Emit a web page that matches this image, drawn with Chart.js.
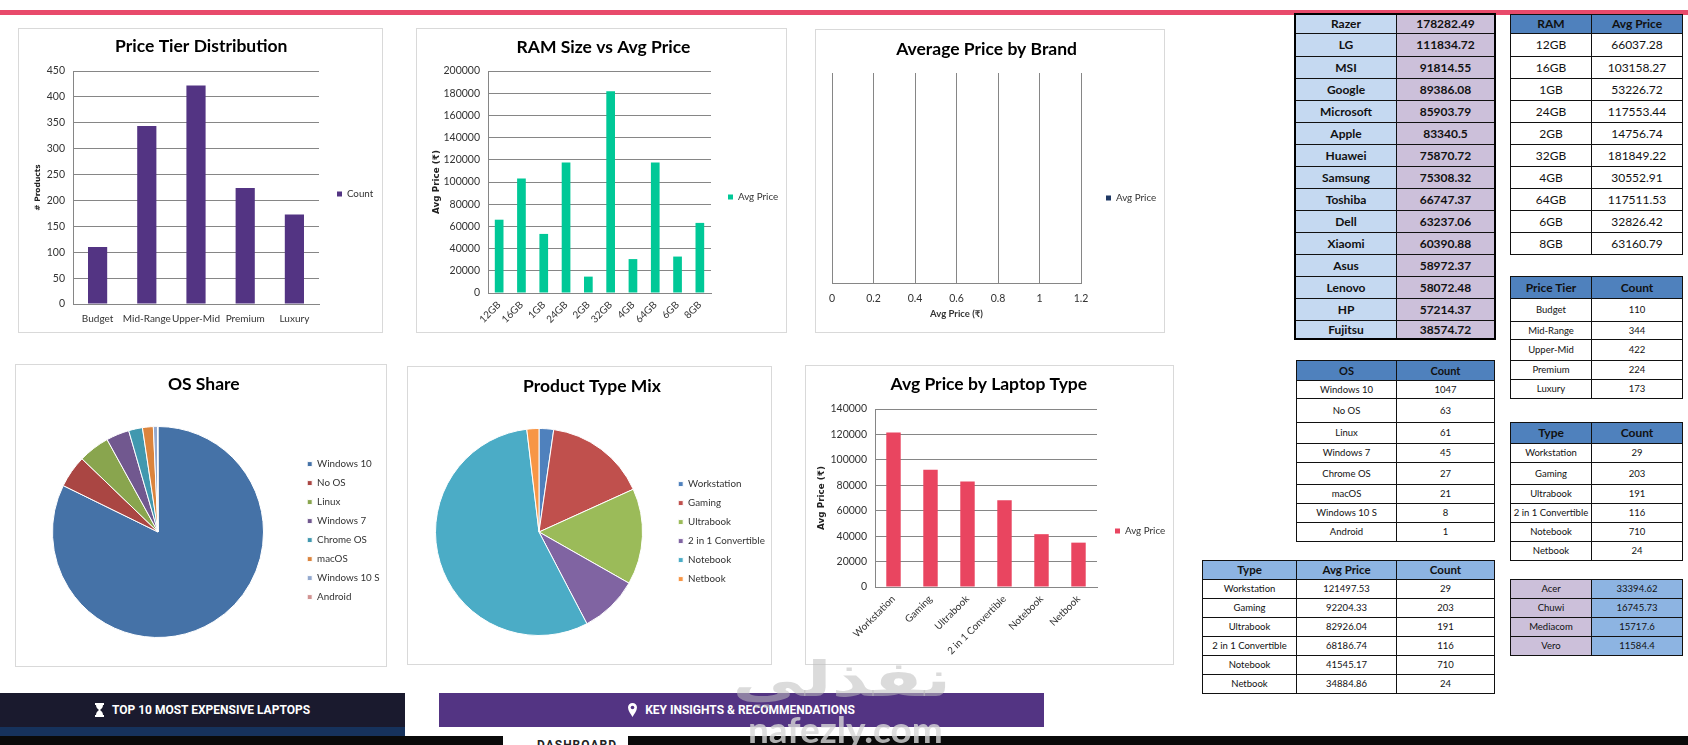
<!DOCTYPE html>
<html lang="en">
<head>
<meta charset="UTF-8">
<title>Laptop Dashboard</title>
<script src="https://cdn.jsdelivr.net/npm/chart.js"></script>
<style>
    html, body { margin: 0; padding: 0; background: #fff; width: 1688px; height: 745px; overflow: hidden; font-family: Lato, 'DejaVu Sans', sans-serif; }
    .abs { position: absolute; }
    .box { position: absolute; background: #fff; border: 1px solid #d9d9d9; box-sizing: border-box; }
    .box canvas { position: absolute; left: -1px; top: -1px; }
    table { position: absolute; border-collapse: collapse; table-layout: fixed; color: #111; }
    td { border: 1px solid #111; text-align: center; padding: 0; overflow: hidden; white-space: nowrap; line-height: 1; }
    .banner { position: absolute; color: #fff; font: bold 12px Roboto, sans-serif; display: flex; align-items: center; justify-content: center; gap: 8px; }
    .mark { position: absolute; pointer-events: none; white-space: nowrap; line-height: 1; }
</style>
</head>
<body>
<div class="abs" style="left:0;top:10px;width:1688px;height:5px;background:#e84a6b"></div>

<div class="abs" style="left:0;top:727px;width:405px;height:9px;background:#16325c"></div>
<div class="banner" style="left:0;top:693px;width:405px;height:34px;background:#1a1a2e">
    <svg width="9" height="14" viewBox="0 0 9 14"><path d="M0 0h9v2H8c0 3-2 4-3 5 1 1 3 2 3 5h1v2H0v-2h1c0-3 2-4 3-5C3 6 1 5 1 2H0z" fill="#fff"/></svg>
    <span>TOP 10 MOST EXPENSIVE LAPTOPS</span>
</div>
<div class="banner" style="left:439px;top:693px;width:605px;height:34px;background:#533483">
    <svg width="9" height="14" viewBox="0 0 9 14"><path d="M4.5 0a4.5 4.5 0 0 1 4.5 4.5C9 8 6 11 4.5 14 3 11 0 8 0 4.5A4.5 4.5 0 0 1 4.5 0z" fill="#fff"/><circle cx="4.5" cy="4.5" r="1.8" fill="#533483"/></svg>
    <span>KEY INSIGHTS &amp; RECOMMENDATIONS</span>
</div>
<div class="abs" style="left:0;top:736px;width:1688px;height:9px;background:#0a0a0a"></div>
<div class="abs" style="left:503px;top:736px;width:125px;height:9px;background:#fff;overflow:hidden">
    <span class="abs" style="left:34px;top:2px;font:bold 12px Roboto,sans-serif;letter-spacing:1px;color:#222">DASHBOARD</span>
</div>

<script>
// chart values
const tierLabels = ['Budget', 'Mid-Range', 'Upper-Mid', 'Premium', 'Luxury'];
const tierCounts = [110, 344, 422, 224, 173];

const ramLabels = ['12GB', '16GB', '1GB', '24GB', '2GB', '32GB', '4GB', '64GB', '6GB', '8GB'];
const ramPrices = [66037.28, 103158.27, 53226.72, 117553.44, 14756.74, 181849.22, 30552.91, 117511.53, 32826.42, 63160.79];

const osLabels = ['Windows 10', 'No OS', 'Linux', 'Windows 7', 'Chrome OS', 'macOS', 'Windows 10 S', 'Android'];
const osCounts = [1047, 63, 61, 45, 27, 21, 8, 1];

const typeLabels = ['Workstation', 'Gaming', 'Ultrabook', '2 in 1 Convertible', 'Notebook', 'Netbook'];
const typeCounts = [29, 203, 191, 116, 710, 24];
const typePrices = [121497.53, 92204.33, 82926.04, 68186.74, 41545.17, 34884.86];

// the brand chart in the picture has an empty plot, so no bars
const brandChartLabels = [];
const brandChartPrices = [];

// tables only
const topBrands = ['Razer', 'LG', 'MSI', 'Google', 'Microsoft', 'Apple', 'Huawei', 'Samsung', 'Toshiba', 'Dell', 'Xiaomi', 'Asus', 'Lenovo', 'HP', 'Fujitsu'];
const topBrandPrices = ['178282.49', '111834.72', '91814.55', '89386.08', '85903.79', '83340.5', '75870.72', '75308.32', '66747.37', '63237.06', '60390.88', '58972.37', '58072.48', '57214.37', '38574.72'];
const lowBrands = ['Acer', 'Chuwi', 'Mediacom', 'Vero'];
const lowBrandPrices = ['33394.62', '16745.73', '15717.6', '11584.4'];

const osColors = ['#4572a7', '#aa4643', '#89a54e', '#71588f', '#4198af', '#db843d', '#93a9cf', '#d19392'];
const typeColors = ['#4f81bd', '#c0504d', '#9bbb59', '#8064a2', '#4bacc6', '#f79646'];

const FONT = "Lato, 'DejaVu Sans', sans-serif";
Chart.defaults.animation = false;
Chart.defaults.responsive = false;
Chart.defaults.font.family = FONT;
Chart.defaults.color = '#333';

const GRID = '#868686';

// move the legend to a fixed spot inside the canvas
const placeLegend = {
    id: 'placeLegend',
    afterLayout(chart, args, opts) {
        const l = chart.legend, w = l.right - l.left, h = l.bottom - l.top;
        l.left = opts.x; l.right = opts.x + w;
        l.top = opts.y; l.bottom = opts.y + h;
    }
};

function chartBox(x0, y0, x1, y1) {
    const box = document.createElement('div');
    box.className = 'box';
    box.style.cssText = `left:${x0}px;top:${y0}px;width:${x1 - x0}px;height:${y1 - y0}px`;
    const cv = document.createElement('canvas');
    cv.width = x1 - x0;
    cv.height = y1 - y0;
    box.appendChild(cv);
    document.body.appendChild(box);
    return cv;
}

// nudge the paddings until the plot area sits where we want it
function fitPlot(chart, left, top, right, bottom) {
    for (let i = 0; i < 3; i++) {
        const a = chart.chartArea, p = chart.options.layout.padding, t = chart.options.plugins.title.padding;
        p.left += left - a.left;
        p.right += a.right - right;
        p.bottom += a.bottom - bottom;
        t.bottom += top - a.top;
        chart.update('none');
    }
}

function commonPlugins(text, titleTop, legendX, legendY, gap) {
    return {
        title: { display: true, text: text, color: '#000', font: { size: 17.5, weight: 'bold', family: FONT }, padding: { top: titleTop, bottom: 10 } },
        legend: {
            display: true, position: 'right', align: 'start',
            labels: { boxWidth: 5, boxHeight: 5, padding: gap, color: '#333', font: { size: 9.8 } }
        },
        tooltip: { enabled: false },
        placeLegend: { x: legendX, y: legendY }
    };
}

function valueAxis(max, step, title, titleSize, titlePad) {
    return {
        min: 0, max: max,
        ticks: { stepSize: step, color: '#333', font: { size: 10.5 }, padding: 8, callback: v => v },
        grid: { color: GRID, lineWidth: 1, drawTicks: false },
        border: { color: GRID },
        title: { display: true, text: title, color: '#222', font: { family: "'DejaVu Sans'", size: titleSize, weight: 'bold' }, padding: { top: 4, bottom: titlePad } }
    };
}

function categoryAxis(rotation, pad) {
    return {
        ticks: { autoSkip: false, maxRotation: rotation, minRotation: rotation, color: '#333', font: { size: 10 }, padding: pad },
        grid: { display: false, drawTicks: false },
        border: { color: GRID }
    };
}

function barChart(canvas, labels, values, color, legendText, plugins, y) {
    return new Chart(canvas, {
        type: 'bar',
        data: { labels: labels, datasets: [{ label: legendText, data: values, backgroundColor: color, categoryPercentage: 1, barPercentage: 0.39 }] },
        options: {
            layout: { padding: { left: 0, right: 0, top: 0, bottom: 0 } },
            plugins: plugins,
            scales: { x: categoryAxis(labels.length === 5 ? 0 : 45, labels.length === 5 ? 9 : 6), y: y }
        },
        plugins: [placeLegend]
    });
}

function pieChart(canvas, labels, values, colors, plugins) {
    return new Chart(canvas, {
        type: 'pie',
        data: { labels: labels, datasets: [{ data: values, backgroundColor: colors, borderColor: '#fff', borderWidth: 1 }] },
        options: { layout: { padding: { left: 0, right: 0, top: 0, bottom: 0 } }, plugins: plugins },
        plugins: [placeLegend]
    });
}

// Price Tier Distribution
const c1 = barChart(chartBox(18, 28, 383, 333), tierLabels, tierCounts, '#533483', 'Count',
    commonPlugins('Price Tier Distribution', 8, 311, 153, 8), valueAxis(450, 50, '# Products', 7.5, -3.5));
fitPlot(c1, 55, 43, 301, 276);

// RAM Size vs Avg Price
const c2 = barChart(chartBox(416, 28, 787, 333), ramLabels, ramPrices, '#00c897', 'Avg Price',
    commonPlugins('RAM Size vs Avg Price', 9, 304, 156, 8), valueAxis(200000, 20000, 'Avg Price (₹)', 8.8, -6.8));
fitPlot(c2, 72, 43, 295, 265);

// Average Price by Brand (empty plot)
const c3 = new Chart(chartBox(815, 29, 1165, 333), {
    type: 'bar',
    data: { labels: brandChartLabels, datasets: [{ label: 'Avg Price', data: brandChartPrices, backgroundColor: '#1f3864' }] },
    options: {
        indexAxis: 'y',
        layout: { padding: { left: 0, right: 0, top: 0, bottom: 0 } },
        plugins: commonPlugins('Average Price by Brand', 10, 283, 156, 8),
        scales: {
            x: {
                min: 0, max: 1.2,
                ticks: { stepSize: 0.2, color: '#333', font: { size: 10.5 }, padding: 9, callback: v => +v.toFixed(1) },
                grid: { color: GRID, drawTicks: false },
                border: { color: GRID },
                title: { display: true, text: 'Avg Price (₹)', color: '#333', font: { size: 9.5, weight: 'bold' }, padding: { top: -5.5, bottom: 0 } }
            },
            y: { ticks: { display: false }, grid: { display: false }, border: { display: false } }
        }
    },
    plugins: [placeLegend]
});
fitPlot(c3, 17, 44, 266, 254);

// OS Share
const c4 = pieChart(chartBox(15, 364, 387, 667), osLabels, osCounts, osColors,
    commonPlugins('OS Share', 10, 283, 86, 9.2));
fitPlot(c4, 37, 62, 249, 274);

// Product Type Mix
const c5 = pieChart(chartBox(407, 366, 772, 665), typeLabels, typeCounts, typeColors,
    commonPlugins('Product Type Mix', 10, 262, 104, 9.2));
fitPlot(c5, 28, 62, 236, 270);

// Avg Price by Laptop Type
const c6 = barChart(chartBox(805, 365, 1174, 665), typeLabels, typePrices, '#e94560', 'Avg Price',
    commonPlugins('Avg Price by Laptop Type', 9, 302, 153, 8), valueAxis(140000, 20000, 'Avg Price (₹)', 8.8, -4.6));
fitPlot(c6, 70, 44, 292, 222);

// tables, placed by row edges
function addTable(x, cols, edges, rows, style) {
    const t = document.createElement('table');
    const w = cols.reduce((a, b) => a + b, 0);
    t.style.cssText = `left:${x}px;top:${edges[0]}px;width:${w}px;` + (style.outer ? `outline:${style.outer};outline-offset:-1px` : '');
    const cg = document.createElement('colgroup');
    cols.forEach(c => { const e = document.createElement('col'); e.style.width = c + 'px'; cg.appendChild(e); });
    t.appendChild(cg);
    rows.forEach((r, i) => {
        const tr = t.insertRow();
        tr.style.height = (edges[i + 1] - edges[i]) + 'px';
        const head = style.header && i === 0;
        r.forEach((v, j) => {
            const td = tr.insertCell();
            td.textContent = v;
            td.style.fontSize = (head ? style.headSize : style.size) + 'px';
            td.style.fontWeight = head || style.bold ? 'bold' : 'normal';
            const bg = head ? style.header : (style.fills ? style.fills[j] : '#fff');
            td.style.background = bg;
        });
    });
    document.body.appendChild(t);
}
const zip = (...a) => a[0].map((_, i) => a.map(c => c[i]));

addTable(1295, [101, 98], [14, 33, 56, 78, 100, 122, 144, 166, 188, 210, 232, 254, 276, 298, 320, 338],
    zip(topBrands, topBrandPrices), { size: 12, bold: true, fills: ['#c5d9f1', '#ccc0da'], outer: '2px solid #000' });

addTable(1510, [81, 91], [14, 33, 56, 78, 100, 122, 144, 166, 188, 210, 232, 254],
    [['RAM', 'Avg Price']].concat(zip(ramLabels, ramPrices.map(String))), { size: 12, header: '#4f81bd', headSize: 12 });

addTable(1510, [81, 91], [276, 298, 321, 339, 360, 379, 398],
    [['Price Tier', 'Count']].concat(zip(tierLabels, tierCounts.map(String))), { size: 9.5, header: '#4f81bd', headSize: 12 });

addTable(1296, [100, 98], [360, 380, 398, 422, 443, 462, 484, 503, 522, 541],
    [['OS', 'Count']].concat(zip(osLabels, osCounts.map(String))), { size: 9.5, header: '#4f81bd', headSize: 11 });

addTable(1510, [81, 91], [422, 443, 462, 484, 503, 522, 541, 560],
    [['Type', 'Count']].concat(zip(typeLabels, typeCounts.map(String))), { size: 9.5, header: '#4f81bd', headSize: 12 });

addTable(1202, [94, 100, 98], [560, 579, 598, 617, 636, 655, 674, 693],
    [['Type', 'Avg Price', 'Count']].concat(zip(typeLabels, typePrices.map(String), typeCounts.map(String))), { size: 9.5, header: '#8db4e2', headSize: 11.5 });

addTable(1510, [81, 91], [579, 598, 617, 636, 655],
    zip(lowBrands, lowBrandPrices), { size: 9.5, fills: ['#ccc0da', '#8db4e2'] });

// site watermark over the picture
document.body.insertAdjacentHTML('beforeend',
    '<div class="mark" dir="rtl" style="left:742px;top:640px;width:204px;color:rgba(190,190,190,.55);font:bold 68px \'DejaVu Sans\',sans-serif;text-align:center;transform:scale(1.05,.72)">نفذلي</div>' +
    '<div class="mark" style="left:748px;top:706px;color:rgba(215,215,215,.8);font:bold 37px Lato,sans-serif">nafezly.com</div>');
</script>
</body>
</html>
